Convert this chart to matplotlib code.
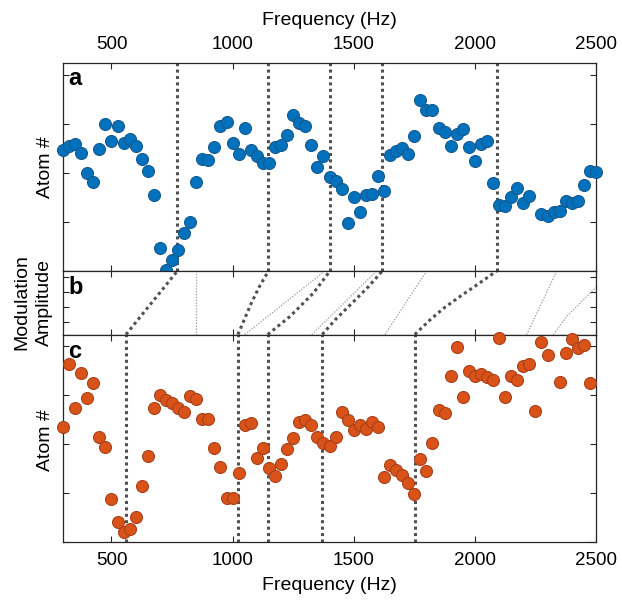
import numpy as np
import matplotlib
matplotlib.use('Agg')
import matplotlib.pyplot as plt

plt.rcParams['font.family'] = ['Liberation Sans', 'DejaVu Sans']

# === Data ===
# panel a (blue): frequency (Hz), atom number (arb.)
freq_a = [300, 325, 350, 375, 400, 425, 450, 475, 500, 525, 550, 575, 600, 625, 650, 675,
          700, 725, 750, 775, 800, 825, 850, 875, 900, 925, 950, 975, 1000, 1025, 1050, 1075,
          1100, 1125, 1150, 1175, 1200, 1225, 1250, 1275, 1300, 1325, 1350, 1375, 1400, 1425,
          1450, 1475, 1500, 1525, 1550, 1575, 1600, 1625, 1650, 1675, 1700, 1725, 1750, 1775,
          1800, 1825, 1850, 1875, 1900, 1925, 1950, 1975, 2000, 2025, 2050, 2075, 2100, 2125,
          2150, 2175, 2200, 2225, 2275, 2300, 2325, 2350, 2375, 2400, 2425, 2450, 2475, 2500]
atoms_a = [2.47, 2.55, 2.58, 2.41, 1.99, 1.82, 2.48, 2.99, 2.65, 2.95, 2.61, 2.69, 2.54, 2.29,
           2.03, 1.54, 0.46, 0.02, 0.22, 0.43, 0.78, 1.00, 1.82, 2.29, 2.26, 2.52, 2.95, 3.03,
           2.60, 2.39, 2.92, 2.46, 2.34, 2.20, 2.20, 2.52, 2.57, 2.77, 3.18, 3.01, 2.95, 2.56,
           2.11, 2.34, 1.92, 1.84, 1.67, 0.97, 1.50, 1.21, 1.54, 1.57, 1.94, 1.64, 2.36, 2.44,
           2.51, 2.39, 2.76, 3.48, 3.29, 3.28, 2.92, 2.84, 2.55, 2.80, 2.89, 2.53, 2.24, 2.59,
           2.64, 1.79, 1.35, 1.32, 1.50, 1.69, 1.39, 1.52, 1.16, 1.12, 1.20, 1.22, 1.43, 1.38,
           1.42, 1.76, 2.04, 2.01]

# panel c (orange)
freq_c = [300, 325, 350, 375, 400, 425, 450, 475, 500, 525, 550, 575, 600, 625, 650, 675,
          700, 725, 750, 775, 800, 825, 850, 875, 900, 925, 950, 975, 1000, 1025, 1050, 1075,
          1100, 1125, 1150, 1175, 1200, 1225, 1250, 1275, 1300, 1325, 1350, 1375, 1400, 1425,
          1450, 1475, 1500, 1525, 1550, 1575, 1600, 1625, 1650, 1675, 1700, 1725, 1750, 1775,
          1800, 1825, 1850, 1875, 1900, 1925, 1950, 1975, 2000, 2025, 2050, 2075, 2100, 2125,
          2150, 2175, 2200, 2225, 2250, 2275, 2300, 2350, 2375, 2400, 2425, 2450, 2475]
atoms_c = [2.35, 3.63, 2.73, 3.46, 2.95, 3.24, 2.14, 1.95, 0.88, 0.41, 0.20, 0.26, 0.51, 1.14,
           1.76, 2.73, 3.01, 2.90, 2.84, 2.73, 2.65, 2.99, 2.93, 2.51, 2.52, 1.93, 1.53, 0.90,
           0.90, 1.41, 2.40, 2.44, 1.71, 1.93, 1.52, 1.35, 1.59, 1.91, 2.12, 2.45, 2.50, 2.39,
           2.15, 2.03, 1.97, 2.15, 2.66, 2.50, 2.29, 2.39, 2.31, 2.45, 2.35, 1.33, 1.58, 1.48,
           1.37, 1.21, 0.98, 1.69, 1.46, 2.03, 2.69, 2.63, 3.39, 3.98, 2.97, 3.49, 3.39, 3.44,
           3.37, 3.31, 4.16, 2.97, 3.39, 3.31, 3.59, 3.64, 2.68, 4.08, 3.83, 3.27, 3.86, 4.14,
           3.97, 4.03, 3.25]

# resonance markers
lines_a = [772, 1148, 1402, 1618, 2090]
lines_c = [560, 1022, 1145, 1370, 1752]

# panel b: frequency of each resonance vs modulation amplitude
thick_amp = [[0, 1], [0, 0.25, 0.5, 0.75, 1], [0, 0.285, 0.65, 1],
             [0, 0.23, 0.49, 0.75, 1], [0, 0.23, 0.41, 0.6, 0.78, 1]]
thick_freq = [[560, 772], [1022, 1050, 1078, 1110, 1148], [1145, 1237, 1333, 1402],
              [1370, 1423, 1492, 1560, 1618], [1752, 1815, 1870, 1939, 2008, 2090]]
thin_amp = [[0, 1], [0, 1], [0, 1], [0, 1], [0, 1], [0, 0.285, 0.725, 1]]
thin_freq = [[849, 849], [1051, 1381], [1327, 1595], [1629, 1801], [2214, 2338],
             [2324, 2379, 2496, 2570]]

# === Plot ===
blue = '#0072BD'; blue_e = '#155a8f'
orange = '#D95319'; orange_e = '#a8401a'
dark = '#505050'
ax_col = '#262626'

fig = plt.figure(figsize=(6.22, 6.02), dpi=100)
L, W = 63/622, 533/622
def box(top, bot):
    return [L, 1 - bot/602, W, (bot - top)/602]
axa = fig.add_axes(box(63, 271))
axb = fig.add_axes(box(271, 334.5))
axc = fig.add_axes(box(334.5, 542))

xt = [500, 1000, 1500, 2000, 2500]
for ax in (axa, axb, axc):
    ax.set_xlim(300, 2500)
    ax.set_xticks(xt)
    for s in ax.spines.values():
        s.set_color(ax_col); s.set_linewidth(0.9)
    ax.tick_params(direction='in', length=4, width=0.8, color=ax_col,
                   top=True, right=True, labelleft=False, labelsize=13.5, pad=7)

dot = (0, (1, 1.1))
for ax, fr, at, col, ec, vl in ((axa, freq_a, atoms_a, blue, blue_e, lines_a),
                                 (axc, freq_c, atoms_c, orange, orange_e, lines_c)):
    ax.set_ylim(0, 4.24)
    ax.set_yticks([0, 1, 2, 3, 4])
    for v in vl:
        ax.axvline(v, color=dark, lw=2.2, ls=dot, zorder=1)
    ax.plot(fr, at, 'o', ms=8.6, mfc=col, mec=ec, mew=0.8, clip_on=False, zorder=3)

axa.tick_params(labelbottom=False, labeltop=True)
axa.xaxis.set_label_position('top')
axa.set_xlabel('Frequency (Hz)', fontsize=14, labelpad=8)
axb.tick_params(labelbottom=False)
axb.set_ylim(0, 1)
axb.set_yticks([0.19, 0.43, 0.67, 0.91])
for a, f in zip(thin_amp, thin_freq):
    axb.plot(f, a, color='#9a9a9a', lw=0.9, ls=(0, (1, 1.3)))
for a, f in zip(thick_amp, thick_freq):
    axb.plot(f, a, color=dark, lw=2.2, ls=dot)
axc.set_xlabel('Frequency (Hz)', fontsize=14, labelpad=6)

# panel letters
axa.text(0.01, 0.894, 'a', transform=axa.transAxes, fontsize=17, fontweight='bold')
axb.text(0.01, 0.633, 'b', transform=axb.transAxes, fontsize=17, fontweight='bold')
axc.text(0.01, 0.888, 'c', transform=axc.transAxes, fontsize=17, fontweight='bold')

# y labels
fig.text(45/622, 1 - 167/602, 'Atom #', rotation=90, ha='center', va='center', fontsize=14)
fig.text(45/622, 1 - 440/602, 'Atom #', rotation=90, ha='center', va='center', fontsize=14)
fig.text(33/622, 1 - 302/602, 'Modulation\nAmplitude', rotation=90, ha='center',
         va='center', fontsize=14, linespacing=1.45)

fig.savefig('out.png', dpi=100)
